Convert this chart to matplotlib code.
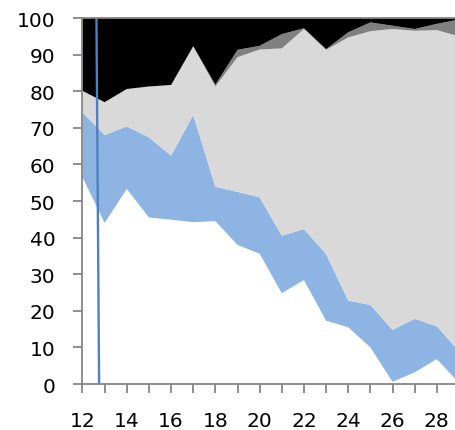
import matplotlib.pyplot as plt

# category positions (x axis)
days = [12, 13, 14, 15, 16, 17, 18, 19, 20, 21, 22, 23, 24, 25, 26, 27, 28, 29]

# stacked shares (percent), bottom to top
white_part = [56.5, 44.0, 53.3, 45.5, 44.9, 44.2, 44.5, 38.0, 35.6, 24.8, 28.4, 17.3, 15.5, 10.0, 0.6, 3.2, 6.8, 0.3]
blue_part = [17.7, 24.0, 17.1, 21.9, 17.5, 29.3, 9.4, 14.5, 15.4, 15.7, 13.9, 18.2, 7.3, 11.6, 14.2, 14.6, 9.0, 8.6]
light_part = [5.9, 9.0, 10.2, 13.9, 19.3, 18.8, 27.4, 36.8, 40.4, 51.2, 54.7, 55.8, 71.9, 74.8, 82.2, 78.7, 80.9, 86.1]
dark_part = [0.0, 0.0, 0.0, 0.0, 0.0, 0.0, 0.5, 2.0, 1.0, 3.9, 0.2, 0.2, 1.4, 2.4, 0.9, 0.5, 1.7, 4.6]
black_part = [19.9, 23.0, 19.4, 18.7, 18.3, 7.7, 18.2, 8.7, 7.6, 4.4, 2.8, 8.5, 3.9, 1.2, 2.1, 3.0, 1.6, 0.4]

# the vertical marker line
marker_x = [12.63, 12.75]
marker_y = [100, 0]

x_ticks = list(range(12, 29))
x_labels = [str(d) if d % 2 == 0 else '' for d in x_ticks]
y_ticks = list(range(0, 101, 10))

axis_grey = '#868686'

fig = plt.figure(figsize=(4.55, 4.31), dpi=100)
ax = fig.add_axes([0.1813, 0.1067, 0.8187, 0.8492])

ax.stackplot(days, white_part, blue_part, light_part, dark_part, black_part,
             colors=['#FFFFFF', '#8EB4E3', '#D9D9D9', '#808080', '#000000'],
             linewidth=0)
ax.plot(marker_x, marker_y, color='#4F81BD', linewidth=1.7, solid_capstyle='butt')

ax.set_xlim(12, 28.82)
ax.set_ylim(0, 100)
ax.set_xticks(x_ticks)
ax.set_xticklabels(x_labels)
ax.set_yticks(y_ticks)

for side in ['left', 'bottom', 'top']:
    ax.spines[side].set_color(axis_grey)
    ax.spines[side].set_linewidth(1.3)
ax.spines['right'].set_visible(False)

ax.tick_params(axis='both', direction='out', color=axis_grey, width=1.3,
               length=6.5, labelsize=14.5, labelcolor='black', pad=13)

fig.savefig('out.png', dpi=100)
